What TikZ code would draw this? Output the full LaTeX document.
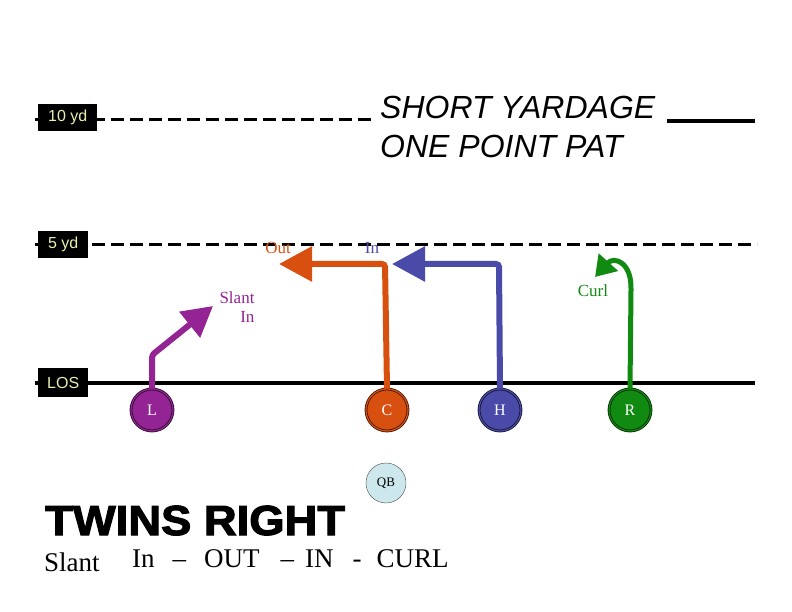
\documentclass[tikz,border=0pt]{standalone}
\usepackage{fontspec}
\setmainfont{Liberation Serif}
\newfontfamily\arialfont{Liberation Sans}
\newfontfamily\heavyfont{Liberation Sans}[BoldFeatures={FakeBold=2.5}]
\usetikzlibrary{arrows.meta}

\definecolor{slantc}{RGB}{148,36,148}
\definecolor{outc}{RGB}{216,80,16}
\definecolor{inc}{RGB}{74,74,168}
\definecolor{curlc}{RGB}{16,138,16}
\definecolor{ydtext}{RGB}{232,240,176}
\definecolor{qbc}{RGB}{205,232,236}

\begin{document}
\begin{tikzpicture}
[x=1pt,y=-1pt,
 yd/.style={fill=black,text=ydtext,font=\arialfont\fontsize{16}{16}\selectfont,inner sep=0pt,anchor=north west},
 yardline/.style={line width=3pt,dash pattern=on 13pt off 6pt},
 player/.style={circle,minimum size=42pt,inner sep=0pt,text=white,font=\fontsize{16}{16}\selectfont,double distance=1.2pt,line width=0.8pt},
 route/.style={line width=6pt,rounded corners=3pt},
 rlabel/.style={font=\fontsize{17}{19}\selectfont,inner sep=0pt},
 bighead/.style={-{Triangle[length=33pt,width=34pt]}},
 title/.style={anchor=base west,inner sep=0pt,font=\arialfont\itshape\fontsize{32}{32}\selectfont},
 calls/.style={anchor=base west,inner sep=0pt,font=\fontsize{27}{27}\selectfont}]
\useasboundingbox (0,0) rectangle (792,612);

% yard lines
\coordinate (tenA) at (35,120);
\coordinate (tenB) at (375,120);
\coordinate (fiveA) at (35,245);
\coordinate (fiveB) at (757,245);
\coordinate (losA) at (35,383);
\coordinate (losB) at (755,383);
\draw[yardline] (tenA) -- (tenB);
\draw[yardline] (fiveA) -- (fiveB);
\draw[line width=4pt] (losA) -- (losB);

\node[yd,minimum width=59pt,minimum height=27pt] (ten) at (38,104) {10 yd};
\node[yd,minimum width=50pt,minimum height=27pt] (five) at (38,231) {5 yd};
\node[yd,minimum width=50pt,minimum height=29pt] (los) at (38,368) {LOS};

% title
\node[title] (title1) at (380,119) {SHORT YARDAGE};
\node[title] (title2) at (380,158) {ONE POINT PAT};
\coordinate (ulA) at (667,121);
\coordinate (ulB) at (755,121);
\draw[line width=4pt] (ulA) -- (ulB);

% players
\node[player,fill=slantc,draw=black!70!slantc,double=slantc] (L) at (152,410) {L};
\node[player,fill=outc,draw=black!70!outc,double=outc] (C) at (387,410) {C};
\node[player,fill=inc,draw=black!70!inc,double=inc] (H) at (500,410) {H};
\node[player,fill=curlc,draw=black!70!curlc,double=curlc] (R) at (630,410) {R};
\node[circle,minimum size=40pt,inner sep=0pt,fill=qbc,draw=black!70,font=\fontsize{13}{13}\selectfont] (QB) at (386,483) {QB};

% routes
\coordinate (Lbr) at (152,355);
\coordinate (Lend) at (213,306);
\draw[route,slantc,-{Triangle[length=30pt,width=32pt]}] (L.north) -- (Lbr) -- (Lend);
\coordinate (Cbr) at (385,264);
\coordinate (Cend) at (279,264);
\draw[route,outc,bighead] (C.north) -- (Cbr) -- (Cend);
\coordinate (Hbr) at (499,264);
\coordinate (Hend) at (392,264);
\draw[route,inc,bighead] (H.north) -- (Hbr) -- (Hend);
\coordinate (Rbr) at (631,290);
\coordinate (Rend) at (595,277);
\draw[line width=5pt,curlc,-{Triangle[length=20pt,width=25pt]}] (R.north) -- (Rbr) .. controls (632,262) and (614,256) .. (Rend);

% route labels
\node[rlabel,text=outc] (outlbl) at (278,248) {Out};
\node[rlabel,text=inc] (inlbl) at (372,248) {In};
\node[rlabel,text=slantc,align=right] (slantlbl) at (237,307) {Slant\\In};
\node[rlabel,text=curlc] (curllbl) at (593,291) {Curl};

% play name
\node[anchor=base west,inner sep=0pt,font=\heavyfont\bfseries\fontsize{42}{42}\selectfont,xscale=1.08] (name) at (45,535) {TWINS RIGHT};
\node[calls] (calls1) at (44,571) {Slant};
\node[calls] (calls2) at (132,567) {In\hspace{18pt}--\hspace{18pt}OUT\hspace{21pt}--\hspace{11pt}IN\hspace{19pt}-\hspace{15pt}CURL};
\end{tikzpicture}
\end{document}
